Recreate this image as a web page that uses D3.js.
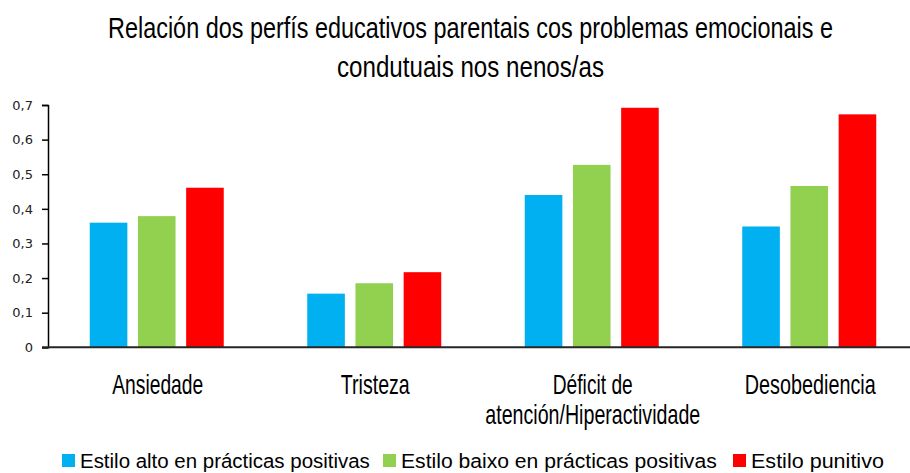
<!DOCTYPE html>
<html>
<head>
<meta charset="utf-8">
<script src="https://cdn.jsdelivr.net/npm/d3@7"></script>
<style>
  body { margin: 0; background: #fff; }
  .narrow { font-family: "Liberation Sans Narrow", "Arial Narrow", "Liberation Sans", Arial, sans-serif; fill: #000; }
  .tick text { font-family: "DejaVu Sans", sans-serif; font-size: 13px; fill: #222; }
</style>
</head>
<body>
<svg id="chart"></svg>
<script>
var categories = ["Ansiedade", "Tristeza", "Déficit de atención/Hiperactividade", "Desobediencia"];
var categoryLines = [["Ansiedade"], ["Tristeza"], ["Déficit de", "atención/Hiperactividade"], ["Desobediencia"]];
var series = ["Estilo alto en prácticas positivas", "Estilo baixo en prácticas positivas", "Estilo punitivo"];
var altoPos = [0.36, 0.155, 0.44, 0.349];
var baixoPos = [0.379, 0.185, 0.527, 0.466];
var punitivo = [0.461, 0.217, 0.692, 0.673];
var yTicks = [0, 0.1, 0.2, 0.3, 0.4, 0.5, 0.6, 0.7];
var colors = ["#00B0F0", "#92D050", "#FF0000"];

var width = 910;
var height = 473;
var svg = d3.select("#chart")
	.attr("width", width)
	.attr("height", height);

var values = [altoPos, baixoPos, punitivo];

var x0 = d3.scaleBand()
	.domain(categories)
	.range([48, 918]);
var x1 = d3.scaleBand()
	.domain(series)
	.range([0, 134])
	.paddingInner(0.22);
var y = d3.scaleLinear()
	.domain([0, 0.7])
	.range([347.3, 105]);

// bars
var groups = svg.selectAll("g.cat")
	.data(categories)
	.enter()
	.append("g")
	.attr("class", "cat")
	.attr("transform", function(d) {
		return "translate(" + (x0(d) + x0.bandwidth() / 2 - 67) + ",0)";
	});
groups.selectAll("rect")
	.data(function(d, i) {
		return series.map(function(s, j) { return {s: s, v: values[j][i], c: colors[j]}; });
	})
	.enter()
	.append("rect")
	.attr("x", function(d) { return x1(d.s); })
	.attr("y", function(d) { return y(d.v); })
	.attr("width", x1.bandwidth())
	.attr("height", function(d) { return y(0) - y(d.v); })
	.attr("fill", function(d) { return d.c; });

// y axis
var axisY = d3.axisLeft(y)
	.tickValues(yTicks)
	.tickSize(6)
	.tickPadding(9)
	.tickFormat(function(d) { return d === 0 ? "0" : d3.format(".1f")(d).replace(".", ","); });
var gy = svg.append("g")
	.attr("transform", "translate(48,0)")
	.call(axisY);
gy.select(".domain").attr("stroke", "#000").attr("stroke-width", 1.5);
gy.selectAll(".tick line").attr("stroke", "#000").attr("stroke-width", 1.5);

// x axis baseline
svg.append("line")
	.attr("x1", 42)
	.attr("x2", width)
	.attr("y1", y(0))
	.attr("y2", y(0))
	.attr("stroke", "#262626")
	.attr("stroke-width", 2);

// the original uses a condensed face: draw normal text and squeeze it sideways
function narrowText(txt, cx, by, size, w, anchor) {
	var g = svg.append("g");
	var t = g.append("text")
		.attr("class", "narrow")
		.attr("x", 0)
		.attr("y", 0)
		.attr("text-anchor", anchor || "middle")
		.attr("font-size", size + "px")
		.text(txt);
	var len = t.node().getComputedTextLength();
	g.attr("transform", "translate(" + cx + "," + by + ") scale(" + (w / len) + ",1)");
}

// title
var titleLines = ["Relación dos perfís educativos parentais cos problemas emocionais e", "condutuais nos nenos/as"];
var titleW = [725, 267];
titleLines.forEach(function(t, i) {
	narrowText(t, 470.5, 37.5 + i * 39, 30, titleW[i]);
});

// category labels
var catW = [[91], [69], [80, 215], [131]];
categoryLines.forEach(function(lines, i) {
	lines.forEach(function(t, k) {
		narrowText(t, x0(categories[i]) + x0.bandwidth() / 2 + 1, 394 + k * 30, 28, catW[i][k]);
	});
});

// legend (kept a touch higher so the descenders stay inside the frame)
var legX = [62, 383, 733];
var legW = [290, 316, 133];
series.forEach(function(s, i) {
	svg.append("rect")
		.attr("x", legX[i])
		.attr("y", 454)
		.attr("width", 13)
		.attr("height", 13)
		.attr("fill", colors[i]);
	narrowText(s, legX[i] + 18, 467.5, 21, legW[i], "start");
});
</script>
</body>
</html>
